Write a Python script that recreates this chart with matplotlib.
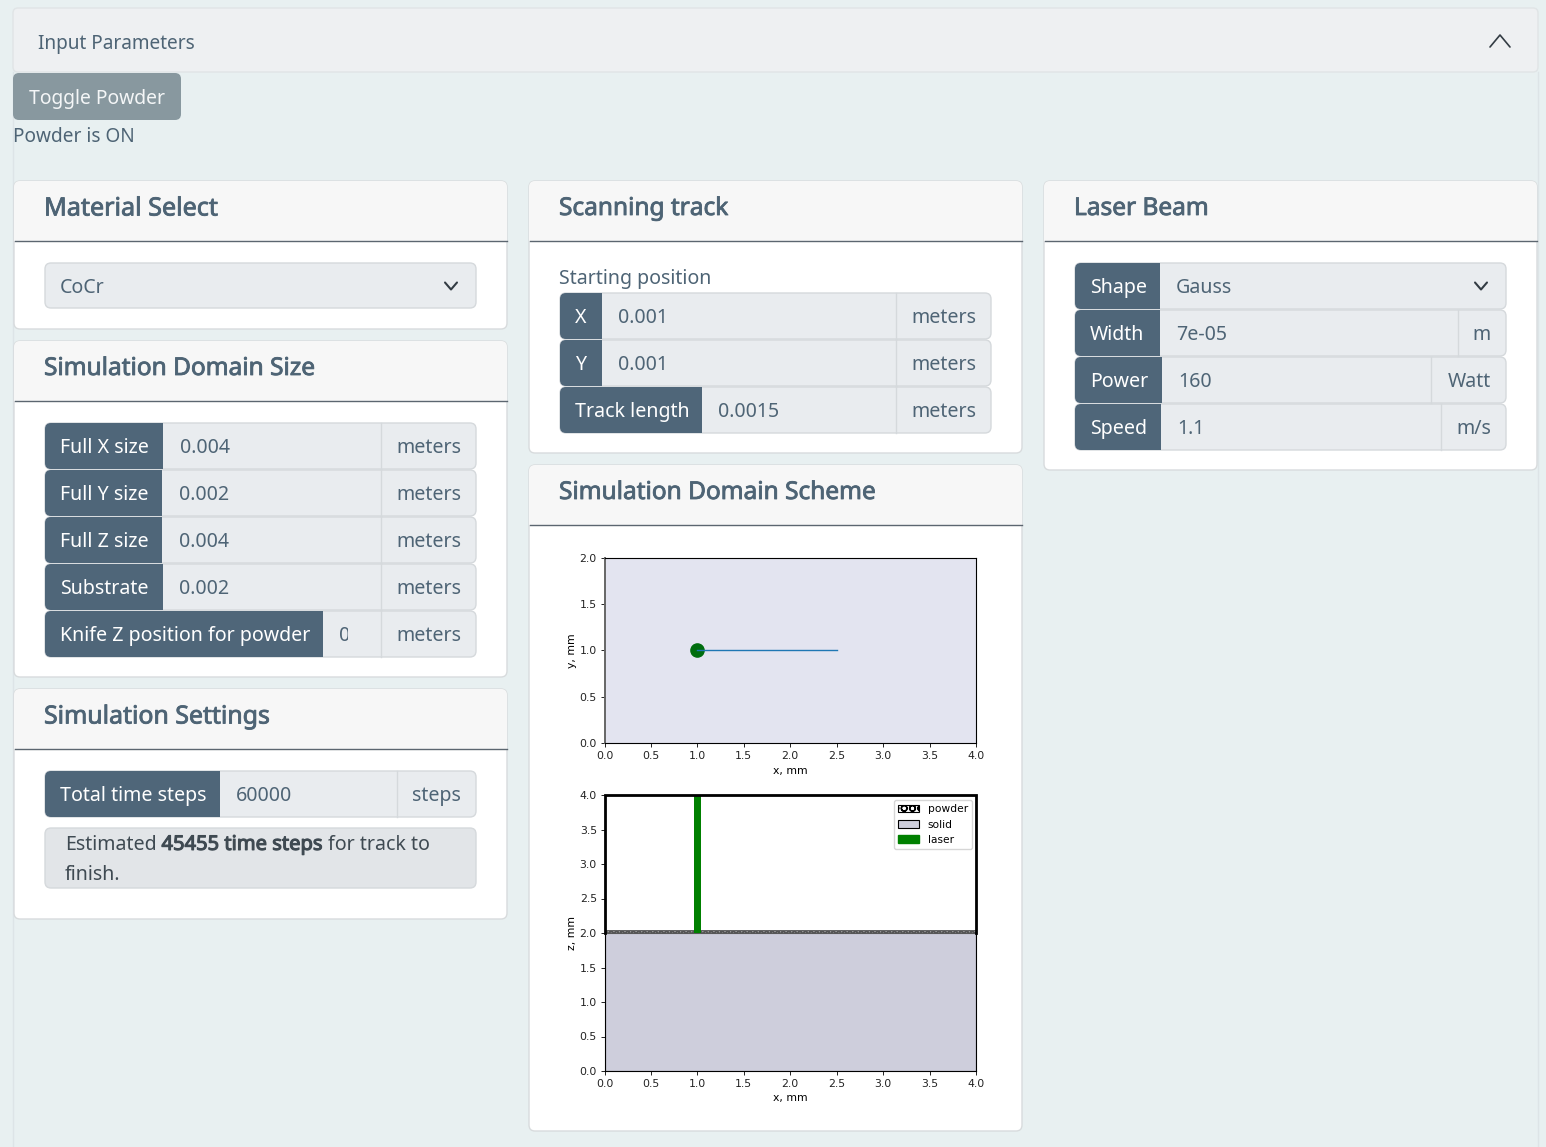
import matplotlib
matplotlib.use("Agg")
import matplotlib.pyplot as plt
import matplotlib.patheffects as pe
from matplotlib.patches import FancyBboxPatch, Rectangle, Patch

W, H = 1546, 1147
plt.rcParams["font.family"] = ["Noto Sans", "DejaVu Sans"]

# chart data, all in mm
domain_x = 4.0
domain_y = 2.0
domain_z = 4.0
substrate_z = 2.0
powder_z = 0.05
start_x = 1.0
start_y = 1.0
track_length = 1.5
laser_width = 0.07
xy_ticks_x = [0.0, 0.5, 1.0, 1.5, 2.0, 2.5, 3.0, 3.5, 4.0]
xy_ticks_y = [0.0, 0.5, 1.0, 1.5, 2.0]
xz_ticks_z = [0.0, 0.5, 1.0, 1.5, 2.0, 2.5, 3.0, 3.5, 4.0]
legend_labels = ["powder", "solid", "laser"]

# form text
domain_rows = [
    ("Full X size", "0.004", "meters"),
    ("Full Y size", "0.002", "meters"),
    ("Full Z size", "0.004", "meters"),
    ("Substrate", "0.002", "meters"),
    ("Knife Z position for powder", "0", "meters"),
]
track_rows = [
    ("X", "0.001", "meters"),
    ("Y", "0.001", "meters"),
    ("Track length", "0.0015", "meters"),
]
laser_rows = [
    ("Shape", "Gauss", ""),
    ("Width", "7e-05", "m"),
    ("Power", "160", "Watt"),
    ("Speed", "1.1", "m/s"),
]

BG = "#e8f0f1"
CARD_EDGE = "#d8dbdd"
HEAD = "#f7f7f7"
SLATE = "#4f6679"
TEXT = "#4e6475"
FIELD = "#e9ecef"
FIELD_EDGE = "#d5d9dc"
FS = 14.1

fig = plt.figure(figsize=(W / 100, H / 100), dpi=100, facecolor=BG)
ui = fig.add_axes([0, 0, 1, 1])
ui.set_xlim(0, W)
ui.set_ylim(H, 0)
ui.axis("off")


def rbox(x0, y0, x1, y1, fc, ec="none", r=6, lw=1.0, z=1):
    p = FancyBboxPatch((x0, y0), x1 - x0, y1 - y0,
                       boxstyle=f"round,pad=0,rounding_size={r}",
                       fc=fc, ec=ec, lw=lw, zorder=z)
    ui.add_patch(p)
    return p


def label(x, y, s, color=TEXT, size=FS, stroke=0, ha="left", z=6):
    t = ui.text(x, y - 0.6, s, color=color, fontsize=size, ha=ha,
                va="center_baseline", zorder=z)
    if stroke:
        # the installed Noto Sans has no usable heavier weight
        t.set_path_effects([pe.withStroke(linewidth=stroke, foreground=color)])
    return t


def chevron(x, y, hw, hh, color="#333c44", lw=1.5):
    ui.plot([x - hw, x, x + hw], [y - hh, y + hh, y - hh], color=color, lw=lw,
            solid_capstyle="round", solid_joinstyle="round", zorder=6)


def card(x0, y0, x1, y1, title, head_y, size=17.6):
    rbox(x0, y0, x1, y1, "white", CARD_EDGE, z=1)
    head = Rectangle((x0, y0), x1 - x0, head_y - y0, fc=HEAD, ec="none", zorder=2)
    ui.add_patch(head)
    head.set_clip_path(rbox(x0, y0, x1, y1, "none", z=0))
    ui.plot([x0 + 0.5, x1 - 0.5], [head_y, head_y], color="#5c6670", lw=1, zorder=3)
    label(x0 + 30, (y0 + head_y) / 2 - 4.4, title, size=size, stroke=0.6)


def row(x0, x1, y0, y1, lab_end, unit_start, lab, val, unit, val_x=None):
    g = rbox(x0, y0, x1, y1, FIELD, FIELD_EDGE, r=6, z=3)
    lab_box = Rectangle((x0, y0), lab_end - x0, y1 - y0, fc=SLATE, ec="none", zorder=4)
    ui.add_patch(lab_box)
    lab_box.set_clip_path(g)
    yc = (y0 + y1) / 2
    label(x0 + 15, yc, lab, color="white")
    tv = label(val_x if val_x else lab_end + 16, yc, val)
    if unit:
        ui.plot([unit_start, unit_start], [y0, y1], color=FIELD_EDGE, lw=1, zorder=4)
        label(x1 - 15, yc, unit, ha="right")
    return tv


# accordion frame
ui.plot([13, 13], [72, H], color="#dde4e7", lw=1, zorder=0)
ui.plot([1538, 1538], [72, H], color="#dde4e7", lw=1, zorder=0)
rbox(13, 8, 1538, 72, "#eef0f2", "#e0e4e6", r=5, z=1)
label(38, 42, "Input Parameters", size=13.7)
chevron(1500, 41, 10, -6, lw=1.2)
rbox(13, 73, 181, 120, "#88989f", r=6, z=2)
label(29, 97, "Toggle Powder", color="#f4f6f7", size=13.9)
label(13, 135.5, "Powder is ON", size=13.7)

# left column
card(14, 181, 507, 329, "Material Select", 241, size=18.1)
rbox(45, 263, 476, 308, FIELD, FIELD_EDGE, z=3)
label(60, 286, "CoCr")
chevron(451, 286, 6, 3.5)

card(14, 341, 507, 677, "Simulation Domain Size", 401)
dom_y = [423, 470, 517, 564, 611]
dom_end = [163, 162, 162, 163, 323]
dom_val = [180, 179, 179, 179, 339]
for (lab, val, unit), y, e, vx in zip(domain_rows, dom_y, dom_end, dom_val):
    t = row(45, 476, y, y + 46, e, 381, lab, val, unit, vx)
    if e == 323:
        # narrow knife field cuts its value off
        t.set_clip_on(True)
        t.set_clip_path(Rectangle((339, y), 8.5, 46, transform=ui.transData))

card(14, 689, 507, 919, "Simulation Settings", 749, size=17.9)
row(45, 476, 771, 817, 220, 397, "Total time steps", "60000", "steps")
rbox(45, 828, 476, 888, "#e2e5e8", "#d5d9dc", z=3)
label(65, 843, "Estimated", color="#3f4a52")
label(161.5, 843, "45455 time steps", color="#3f4a52", size=14.5, stroke=0.8)
label(328, 843, "for track to", color="#3f4a52")
label(65, 873, "finish.", color="#3f4a52")

# middle column
card(529, 181, 1022, 453, "Scanning track", 241)
label(559, 277, "Starting position")
for (lab, val, unit), y, e in zip(track_rows, [293, 340, 387], [602, 602, 702]):
    row(560, 991, y, y + 46, e, 896, lab, val, unit)

card(529, 465, 1022, 1131, "Simulation Domain Scheme", 525)

# right column
card(1044, 181, 1537, 470, "Laser Beam", 241)
lb_y = [263, 310, 357, 404]
lb_end = [1160, 1160, 1162, 1161]
lb_unit = [1506, 1458, 1431, 1441]
for (lab, val, unit), y, e, u in zip(laser_rows, lb_y, lb_end, lb_unit):
    row(1075, 1506, y, y + 46, e, u, lab, val, unit)
chevron(1481, 286, 6, 3.5)


def chart_axes(x0, y0, x1, y1):
    a = fig.add_axes([x0 / W, 1 - y1 / H, (x1 - x0) / W, (y1 - y0) / H])
    a.tick_params(labelsize=7.8, length=3, width=0.7, pad=2.5, colors="#222222")
    for s in a.spines.values():
        s.set_linewidth(0.8)
    return a


# plan view
ax = chart_axes(604.5, 557.5, 976, 743)
ax.set_facecolor("#e3e4f0")
ax.plot([start_x, start_x + track_length], [start_y, start_y], color="#1f77b4", lw=1.0, zorder=3)
ax.plot([start_x], [start_y], "o", color="#006d0e", ms=9.5, zorder=2)
ax.set_xlim(0, domain_x)
ax.set_ylim(0, domain_y)
ax.set_xticks(xy_ticks_x)
ax.set_yticks(xy_ticks_y)
ax.spines["left"].set_color("#666666")
ax.spines["left"].set_linewidth(1.4)
ax.set_xlabel("x, mm", fontsize=7.8, family="DejaVu Sans", labelpad=4)
ax.set_ylabel("y, mm", fontsize=7.8, family="DejaVu Sans", labelpad=1.5)

# side view
ax2 = chart_axes(604.5, 795, 976, 1071)
ax2.bar(domain_x / 2, substrate_z, width=domain_x, color="#cecedc", ec="#555555", lw=0.8, zorder=1)
ax2.bar(domain_x / 2, powder_z, width=domain_x, bottom=substrate_z, color="#999999",
        ec="#555555", lw=0.6, hatch="OOO", zorder=2)
ax2.bar(start_x, domain_z - substrate_z, width=laser_width, bottom=substrate_z,
        color="green", zorder=3)
ax2.plot([0, 0, domain_x, domain_x], [substrate_z, domain_z, domain_z, substrate_z],
         color="black", lw=2, clip_on=False, solid_joinstyle="miter", zorder=4)
ax2.set_xlim(0, domain_x)
ax2.set_ylim(0, domain_z)
ax2.set_xticks(xy_ticks_x)
ax2.set_yticks(xz_ticks_z)
ax2.set_xlabel("x, mm", fontsize=7.8, family="DejaVu Sans", labelpad=3)
ax2.set_ylabel("z, mm", fontsize=7.8, family="DejaVu Sans", labelpad=1.5)
handles = [
    Patch(fc="white", ec="black", hatch="OO", lw=0.8),
    Patch(fc="#cecedc", ec="black", lw=0.8),
    Patch(fc="green", ec="green"),
]
leg = ax2.legend(handles, legend_labels, loc="upper right",
                 bbox_to_anchor=(0.99, 0.982), borderaxespad=0,
                 prop={"family": "DejaVu Sans", "size": 7.7})
leg.set_zorder(5)
for a in (ax, ax2):
    for t in a.get_xticklabels() + a.get_yticklabels():
        t.set_family("DejaVu Sans")

fig.savefig("out.png", dpi=100, facecolor=BG)
